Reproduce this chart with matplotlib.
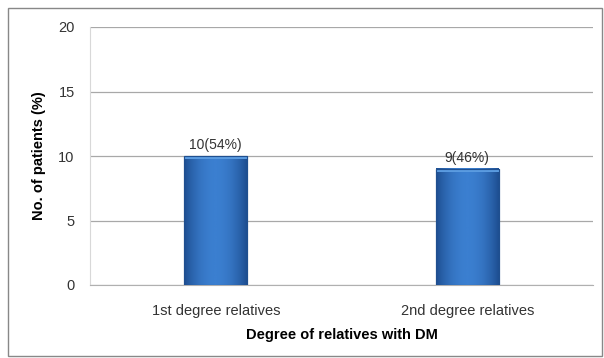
import matplotlib
matplotlib.use("Agg")
import matplotlib.pyplot as plt
from matplotlib.patches import Rectangle
import numpy as np

plt.rcParams['font.family'] = ['Liberation Sans', 'DejaVu Sans']

categories = ["1st degree relatives", "2nd degree relatives"]
values = [10, 9]
labels = ["10(54%)", "9(46%)"]
yticks = [0, 5, 10, 15, 20]

fig = plt.figure(figsize=(6.04, 3.58), dpi=100)
ax = fig.add_axes([90/604, 1-285/358, (593-90)/604, (285-27)/358])

x = list(range(len(categories)))
bars = ax.bar(x, values, width=0.25, color='#3573c0', edgecolor='#1f4f8f', linewidth=0.8, zorder=3)
# horizontal shading gradient inside each bar
grad = np.linspace(0, 1, 64)
shade = 1 - 0.35 * (2 * np.abs(grad - 0.5)) ** 2
cmap = matplotlib.colors.LinearSegmentedColormap.from_list('b', ['#1e4f92', '#3b7fd0'])
for b in bars:
    x0, w, h = b.get_x(), b.get_width(), b.get_height()
    ax.imshow(shade[np.newaxis, :], extent=(x0, x0 + w, 0, h), aspect='auto',
              cmap=cmap, vmin=0.65, vmax=1.0, zorder=3.5)
    ax.add_patch(Rectangle((x0, h - 0.25), w, 0.25, color='#5a9be0', zorder=3.6, linewidth=0))
    ax.add_patch(Rectangle((x0, 0), w, h, fill=False, edgecolor='#1f4f8f', linewidth=0.8, zorder=3.7))
for b, lab in zip(bars, labels):
    ax.annotate(lab, (b.get_x() + b.get_width()/2, b.get_height()),
                xytext=(0, 3), textcoords='offset points', ha='center', va='bottom',
                fontsize=10, color='#333333', zorder=4)

ax.set_xlim(-0.5, 1.5)
ax.set_ylim(0, 20)
ax.set_yticks(yticks)
ax.set_xticks(x)
ax.set_xticklabels(categories, fontsize=10.5, color='#333333')
ax.tick_params(axis='y', labelsize=10.5, colors='#333333', length=0, pad=11)
ax.tick_params(axis='x', length=0, pad=14)
ax.grid(axis='y', color='#a8a8a8', linewidth=0.9, zorder=0)
for s in ['top', 'right']:
    ax.spines[s].set_visible(False)
ax.spines['left'].set_color('#d8d8d8')
ax.spines['bottom'].set_color('#b0b0b0')

ax.set_xlabel("Degree of relatives with DM", fontsize=10.5, fontweight='bold', labelpad=7)
ax.set_ylabel("No. of patients (%)", fontsize=10.5, fontweight='bold', labelpad=9)

fig.patches.append(Rectangle((8/604, 2/358), 594/604, 348/358, transform=fig.transFigure,
                             fill=False, edgecolor='#888888', linewidth=1))

fig.savefig("out.png", dpi=100)
